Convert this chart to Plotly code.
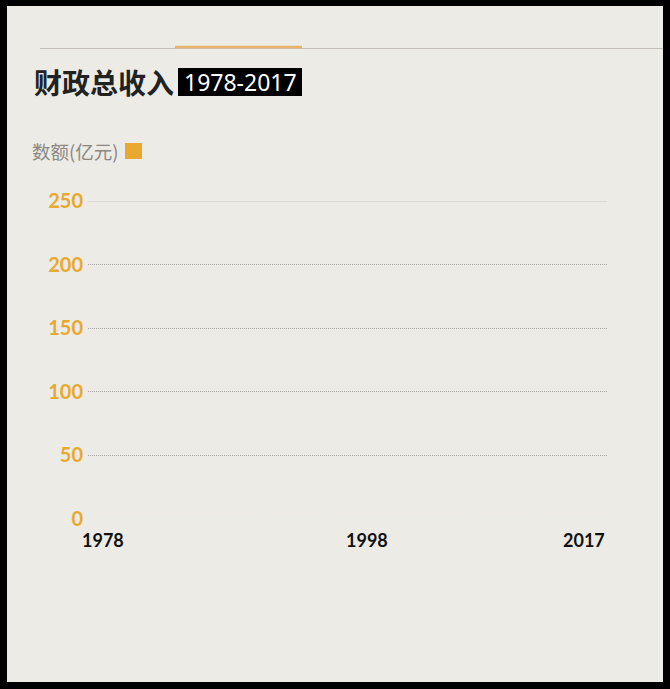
import plotly.graph_objects as go

W, H = 670, 689

years = list(range(1978, 2018))
# first frame of the growth animation: bars still at zero height
values = [0, 0, 0, 0, 0, 0, 0, 0, 0, 0,
          0, 0, 0, 0, 0, 0, 0, 0, 0, 0,
          0, 0, 0, 0, 0, 0, 0, 0, 0, 0,
          0, 0, 0, 0, 0, 0, 0, 0, 0, 0]
y_ticks = [0, 50, 100, 150, 200, 250]
x_labels = [1978, 1998, 2017]
x_anchor = ["left", "center", "right"]
x_shift = [-14, 13, 6]

ORANGE = "#E8A930"
BG = "#ECEBE6"


def px(x):
    return x / W


def py(y):
    return 1 - y / H


fig = go.Figure()
fig.add_trace(go.Bar(x=years, y=values, marker_color=ORANGE, showlegend=False))

shapes = [
    # black frame round the card
    dict(type="rect", xref="paper", yref="paper", x0=px(7), x1=px(663), y0=py(682), y1=py(6),
         fillcolor=BG, line_width=0, layer="below"),
    dict(type="line", xref="paper", yref="paper", x0=px(40), x1=px(663), y0=py(48.5), y1=py(48.5),
         line=dict(color="#c4c0b9", width=1)),
    dict(type="line", xref="paper", yref="paper", x0=px(175), x1=px(302), y0=py(47), y1=py(47),
         line=dict(color="#E9B26A", width=2.5)),
    dict(type="rect", xref="paper", yref="paper", x0=px(178), x1=px(302), y0=py(96), y1=py(68),
         fillcolor="#000000", line_width=0),
    dict(type="rect", xref="paper", yref="paper", x0=px(125), x1=px(142), y0=py(159), y1=py(143),
         fillcolor=ORANGE, line_width=0),
    dict(type="line", xref="x", yref="y", x0=1977.5, x1=2017.5, y0=250, y1=250,
         line=dict(color="#c9c7c2", width=1)),
]

annotations = [
    dict(text="财政总收入", xref="paper", yref="paper", x=px(32), y=py(82), xanchor="left",
         yanchor="middle", showarrow=False,
         font=dict(family="Noto Sans CJK SC", size=28, color="#222222", weight="bold")),
    dict(text="1978-2017", xref="paper", yref="paper", x=px(240), y=py(82), xanchor="center",
         yanchor="middle", showarrow=False,
         font=dict(family="Noto Sans", size=23, color="#ffffff")),
    dict(text="数额(亿元)", xref="paper", yref="paper", x=px(30), y=py(151), xanchor="left",
         yanchor="middle", showarrow=False,
         font=dict(family="Noto Sans CJK SC", size=18.5, color="#8a8884")),
]
for yr, anc, sh in zip(x_labels, x_anchor, x_shift):
    annotations.append(dict(text=str(yr), xref="x", yref="paper", x=yr, y=py(540),
                            xanchor=anc, yanchor="middle", showarrow=False, xshift=sh,
                            font=dict(family="Lato", size=18, color="#111111", weight="bold")))

fig.update_layout(
    width=W, height=H,
    margin=dict(l=0, r=0, t=0, b=0),
    paper_bgcolor="#000000",
    plot_bgcolor="rgba(0,0,0,0)",
    shapes=shapes,
    annotations=annotations,
    bargap=0.2,
    xaxis=dict(domain=[px(88), px(607)], range=[1977.5, 2017.5], showticklabels=False,
               showgrid=False, zeroline=False, showline=False, fixedrange=True,
               automargin=False),
    yaxis=dict(domain=[py(519), py(201)], range=[0, 250], tickvals=y_ticks,
               showgrid=True, gridcolor="#a8a6a0", griddash="1px,1px", gridwidth=1,
               zeroline=False, showline=False, ticks="", ticklabelstandoff=4,
               automargin=False,
               tickfont=dict(family="Lato", size=20, color=ORANGE, weight="bold")),
)

fig.write_html("out.html", config={"displayModeBar": False},
               post_script="document.body.style.margin='0';document.body.style.overflow='hidden';")
